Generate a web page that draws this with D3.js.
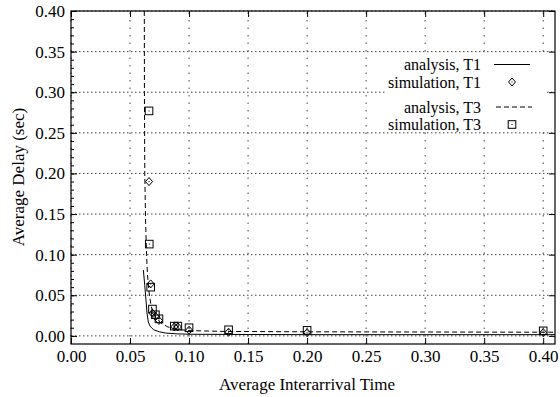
<!DOCTYPE html>
<html>
<head>
<meta charset="utf-8">
<script src="https://cdn.jsdelivr.net/npm/d3@7"></script>
<style>
  body { margin: 0; background: #fff; }
</style>
</head>
<body>
<div id="chart"></div>
<script>
// tick values
const xTicks = [0.00, 0.05, 0.10, 0.15, 0.20, 0.25, 0.30, 0.35, 0.40];
const yTicks = [0.00, 0.05, 0.10, 0.15, 0.20, 0.25, 0.30, 0.35, 0.40];

// analysis curves
const anaT1X = [0.0613, 0.0625, 0.0633, 0.0644, 0.0655, 0.0670, 0.0700, 0.0750, 0.0800, 0.0900, 0.1000, 0.1500, 0.2000, 0.4100];
const anaT1Y = [0.081, 0.062, 0.048, 0.028, 0.017, 0.012, 0.0075, 0.005, 0.0035, 0.0025, 0.002, 0.0017, 0.0015, 0.0015];
const anaT3X = [0.0621, 0.0622, 0.0625, 0.0632, 0.0640, 0.0648, 0.0660, 0.0675, 0.0690, 0.0720, 0.0760, 0.0820, 0.0900, 0.1000, 0.1300, 0.2000, 0.4100];
const anaT3Y = [0.400, 0.300, 0.200, 0.140, 0.100, 0.075, 0.055, 0.040, 0.030, 0.022, 0.016, 0.011, 0.008, 0.0065, 0.0055, 0.005, 0.0045];

// simulation points
const simT1X = [0.0661, 0.0675, 0.0690, 0.0715, 0.0745, 0.0875, 0.0905, 0.1000, 0.1335, 0.2000, 0.4000];
const simT1Y = [0.190, 0.064, 0.028, 0.024, 0.019, 0.011, 0.011, 0.007, 0.0045, 0.004, 0.004];
const simT3X = [0.0661, 0.0663, 0.0675, 0.0690, 0.0715, 0.0745, 0.0875, 0.0905, 0.1000, 0.1335, 0.2000, 0.4000];
const simT3Y = [0.277, 0.113, 0.060, 0.033, 0.026, 0.021, 0.012, 0.012, 0.010, 0.0075, 0.0068, 0.0062];

const legendLabels = ["analysis, T1", "simulation, T1", "analysis, T3", "simulation, T3"];

const font = "'Liberation Serif', Tinos, 'Times New Roman', Times, serif";
const width = 560, height = 397;
const margin = { top: 11, right: 5, bottom: 53, left: 71 };
const x0 = margin.left, x1 = width - margin.right;
const y0 = height - margin.bottom, y1 = margin.top;

const svg = d3.select("#chart").append("svg")
  .attr("width", width).attr("height", height)
  .attr("font-family", font);

const x = d3.scaleLinear().domain([0, 0.41]).range([x0, x1]);
const y = d3.scaleLinear().domain([-0.01, 0.40]).range([y0, y1]);

// grid
svg.append("g").selectAll("line").data(yTicks).join("line")
  .attr("x1", x0).attr("x2", x1)
  .attr("y1", d => y(d)).attr("y2", d => y(d))
  .attr("stroke", "#444").attr("stroke-width", 1)
  .attr("stroke-dasharray", "1.5,2.5");
svg.append("g").selectAll("line").data(xTicks).join("line")
  .attr("x1", d => x(d)).attr("x2", d => x(d))
  .attr("y1", y0).attr("y2", y1)
  .attr("stroke", "#444").attr("stroke-width", 1)
  .attr("stroke-dasharray", "1.5,6");

// legend background hides the grid behind it
svg.append("rect")
  .attr("x", 386).attr("y", 54).attr("width", 160).attr("height", 78)
  .attr("fill", "#fff");

const fmt = d3.format(".2f");

// axes, ticks pointing inward
svg.append("g")
  .attr("transform", `translate(0,${y0})`)
  .call(d3.axisBottom(x).tickValues(xTicks).tickFormat(fmt).tickSize(-6).tickPadding(6));
svg.append("g")
  .attr("transform", `translate(${x0},0)`)
  .call(d3.axisLeft(y).tickValues(yTicks).tickFormat(fmt).tickSize(-6).tickPadding(6));
svg.append("g")
  .attr("transform", `translate(${x0},0)`)
  .call(d3.axisLeft(y).tickValues(d3.range(0, 0.405, 0.01)).tickFormat("").tickSize(-3));
svg.append("g")
  .attr("transform", `translate(0,${y1})`)
  .call(d3.axisTop(x).tickValues(xTicks).tickFormat("").tickSize(-6));
svg.append("g")
  .attr("transform", `translate(${x1},0)`)
  .call(d3.axisRight(y).tickValues(yTicks).tickFormat("").tickSize(-6));

svg.selectAll(".domain").remove();
svg.selectAll("g").attr("font-family", font).attr("font-size", 17);
svg.selectAll(".tick line").attr("stroke", "#000");
svg.selectAll(".tick text").attr("fill", "#000");

// frame
svg.append("rect")
  .attr("x", x0).attr("y", y1).attr("width", x1 - x0).attr("height", y0 - y1)
  .attr("fill", "none").attr("stroke", "#000").attr("stroke-width", 1.2);

// curves
svg.append("clipPath").attr("id", "clip")
  .append("rect").attr("x", x0).attr("y", y1).attr("width", x1 - x0).attr("height", y0 - y1);

const line = d3.line().x(d => x(d[0])).y(d => y(d[1]));
const plot = svg.append("g").attr("clip-path", "url(#clip)");

plot.append("path")
  .attr("d", line(d3.zip(anaT1X, anaT1Y)))
  .attr("fill", "none").attr("stroke", "#000").attr("stroke-width", 1);
plot.append("path")
  .attr("d", line(d3.zip(anaT3X, anaT3Y)))
  .attr("fill", "none").attr("stroke", "#000").attr("stroke-width", 1)
  .attr("stroke-dasharray", "5,3");

// markers
const diamond = (g, cx, cy) => {
  g.append("path")
    .attr("d", `M${cx},${cy - 4}L${cx + 3.5},${cy}L${cx},${cy + 4}L${cx - 3.5},${cy}Z`)
    .attr("fill", "none").attr("stroke", "#000").attr("stroke-width", 1);
  g.append("rect").attr("x", cx - 0.5).attr("y", cy - 0.5).attr("width", 1).attr("height", 1).attr("fill", "#000");
};
const square = (g, cx, cy) => {
  g.append("rect")
    .attr("x", cx - 3.8).attr("y", cy - 3.8).attr("width", 7.6).attr("height", 7.6)
    .attr("fill", "none").attr("stroke", "#000").attr("stroke-width", 1);
  g.append("rect").attr("x", cx - 0.5).attr("y", cy - 0.5).attr("width", 1).attr("height", 1).attr("fill", "#000");
};

const pts = svg.append("g");
simT1X.forEach((v, i) => diamond(pts, x(v), y(simT1Y[i])));
simT3X.forEach((v, i) => square(pts, x(v), y(simT3Y[i])));

// legend
const legendY = [70, 88, 113, 130];
const lg = svg.append("g");
lg.selectAll("text").data(legendLabels).join("text")
  .attr("x", 481).attr("y", (d, i) => legendY[i])
  .attr("text-anchor", "end")
  .attr("font-family", font).attr("font-size", 16)
  .text(d => d);
lg.append("line").attr("x1", 494).attr("x2", 530).attr("y1", 64.5).attr("y2", 64.5)
  .attr("stroke", "#000").attr("stroke-width", 1);
diamond(lg, 512, 82);
lg.append("line").attr("x1", 496).attr("x2", 532).attr("y1", 107).attr("y2", 107)
  .attr("stroke", "#000").attr("stroke-width", 1).attr("stroke-dasharray", "5,3");
square(lg, 512, 124.5);

// axis titles
svg.append("text")
  .attr("x", 307).attr("y", 390)
  .attr("text-anchor", "middle")
  .attr("font-family", font).attr("font-size", 17)
  .text("Average Interarrival Time");
svg.append("text")
  .attr("transform", "rotate(-90)")
  .attr("x", -177).attr("y", 24)
  .attr("text-anchor", "middle")
  .attr("font-family", font).attr("font-size", 17)
  .text("Average Delay (sec)");
</script>
</body>
</html>
